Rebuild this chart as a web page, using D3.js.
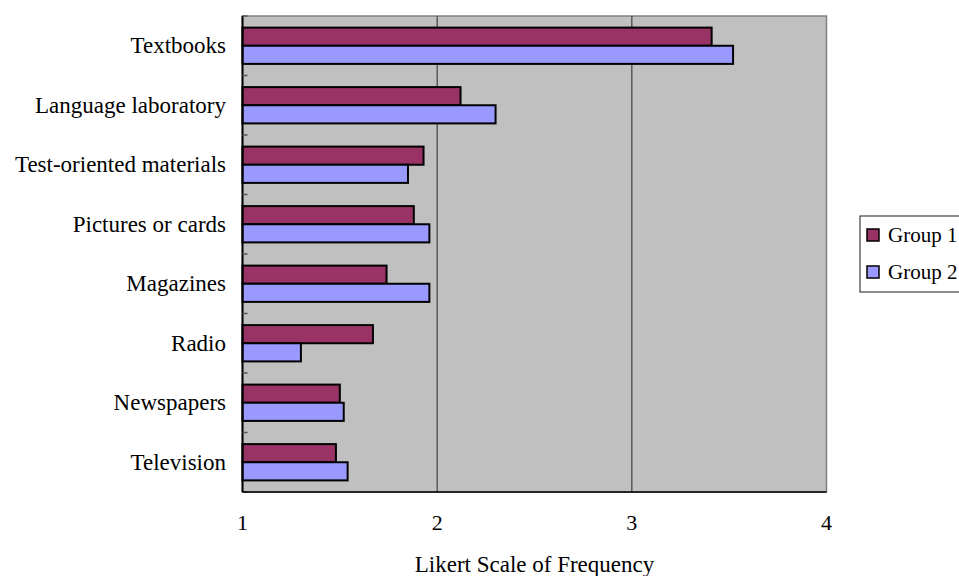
<!DOCTYPE html>
<html>
<head>
<meta charset="utf-8">
<script src="https://cdn.jsdelivr.net/npm/d3@7"></script>
<style>
  html, body { margin: 0; padding: 0; background: #fff; }
  svg { display: block; }
  text { font-family: "Liberation Serif", "Times New Roman", serif; fill: #000; }
</style>
</head>
<body>
<svg id="chart" width="959" height="576"></svg>
<script>
// Materials used, top to bottom
const categories = [
  "Textbooks", "Language laboratory", "Test-oriented materials", "Pictures or cards",
  "Magazines", "Radio", "Newspapers", "Television"
];
const seriesNames = ["Group 1", "Group 2"];
const group1 = [3.41, 2.12, 1.93, 1.88, 1.74, 1.67, 1.50, 1.48];
const group2 = [3.52, 2.30, 1.85, 1.96, 1.96, 1.30, 1.52, 1.54];
const xTicks = [1, 2, 3, 4];
const xTitle = "Likert Scale of Frequency";
const colors = ["#993366", "#9999FF"];

const svg = d3.select("#chart");
const plot = { left: 242.5, right: 826.5, top: 16, bottom: 492 };

const x = d3.scaleLinear().domain([1, 4]).range([plot.left, plot.right]);
const y = d3.scaleBand().domain(categories).range([plot.top, plot.bottom])
  .paddingInner(0.39).paddingOuter(0.195);
const ySub = d3.scaleBand().domain(seriesNames).range([0, y.bandwidth()]);
const yStep = d3.scaleBand().domain(categories).range([plot.top, plot.bottom]);

// plot background
svg.append("rect")
  .attr("x", plot.left).attr("y", plot.top)
  .attr("width", plot.right - plot.left).attr("height", plot.bottom - plot.top)
  .attr("fill", "#C0C0C0").attr("stroke", "#808080").attr("stroke-width", 1.5);

// vertical gridlines
svg.append("g").selectAll("line")
  .data(xTicks.slice(1, -1))
  .join("line")
  .attr("x1", d => x(d)).attr("x2", d => x(d))
  .attr("y1", plot.top).attr("y2", plot.bottom)
  .attr("stroke", "#404040").attr("stroke-width", 1.2);

// bars
const rows = categories.map((c, i) => ({ c, vals: [group1[i], group2[i]] }));
const rowG = svg.append("g").selectAll("g")
  .data(rows)
  .join("g")
  .attr("transform", d => `translate(0,${y(d.c)})`);
rowG.selectAll("rect")
  .data(d => d.vals.map((v, k) => ({ v, k })))
  .join("rect")
  .attr("x", x(1))
  .attr("y", d => ySub(seriesNames[d.k]))
  .attr("width", d => x(d.v) - x(1))
  .attr("height", ySub.bandwidth())
  .attr("fill", d => colors[d.k])
  .attr("stroke", "#000").attr("stroke-width", 2);

// category axis line and boundary ticks
svg.append("line")
  .attr("x1", plot.left).attr("x2", plot.left)
  .attr("y1", plot.top).attr("y2", plot.bottom)
  .attr("stroke", "#000").attr("stroke-width", 2);
const boundaries = categories.map(c => yStep(c)).concat([plot.bottom]);
svg.append("g").selectAll("line")
  .data(boundaries)
  .join("line")
  .attr("x1", plot.left).attr("x2", plot.left + 5)
  .attr("y1", d => d).attr("y2", d => d)
  .attr("stroke", "#555").attr("stroke-width", 1.5);

// value axis line
svg.append("line")
  .attr("x1", plot.left).attr("x2", plot.right)
  .attr("y1", plot.bottom).attr("y2", plot.bottom)
  .attr("stroke", "#000").attr("stroke-width", 1.5);

// category labels
svg.append("g").selectAll("text")
  .data(categories)
  .join("text")
  .attr("x", 226)
  .attr("y", d => yStep(d) + yStep.bandwidth() / 2)
  .attr("dy", "0.33em")
  .attr("text-anchor", "end")
  .attr("font-size", 23)
  .text(d => d);

// value tick labels
svg.append("g").selectAll("text")
  .data(xTicks)
  .join("text")
  .attr("x", d => x(d))
  .attr("y", 530)
  .attr("text-anchor", "middle")
  .attr("font-size", 22)
  .text(d => d);

// axis title
svg.append("text")
  .attr("x", (plot.left + plot.right) / 2)
  .attr("y", 572)
  .attr("text-anchor", "middle")
  .attr("font-size", 23)
  .text(xTitle);

// legend
const legend = svg.append("g");
legend.append("rect")
  .attr("x", 860).attr("y", 216).attr("width", 120).attr("height", 76)
  .attr("fill", "#fff").attr("stroke", "#404040").attr("stroke-width", 1.2);
const items = legend.selectAll("g")
  .data(seriesNames)
  .join("g")
  .attr("transform", (d, i) => `translate(0,${235 + i * 37})`);
items.append("rect")
  .attr("x", 867).attr("y", -6).attr("width", 12).attr("height", 12)
  .attr("fill", (d, i) => colors[i]).attr("stroke", "#000").attr("stroke-width", 1.5);
items.append("text")
  .attr("x", 888).attr("y", 0).attr("dy", "0.35em")
  .attr("font-size", 21)
  .text(d => d);
</script>
</body>
</html>
